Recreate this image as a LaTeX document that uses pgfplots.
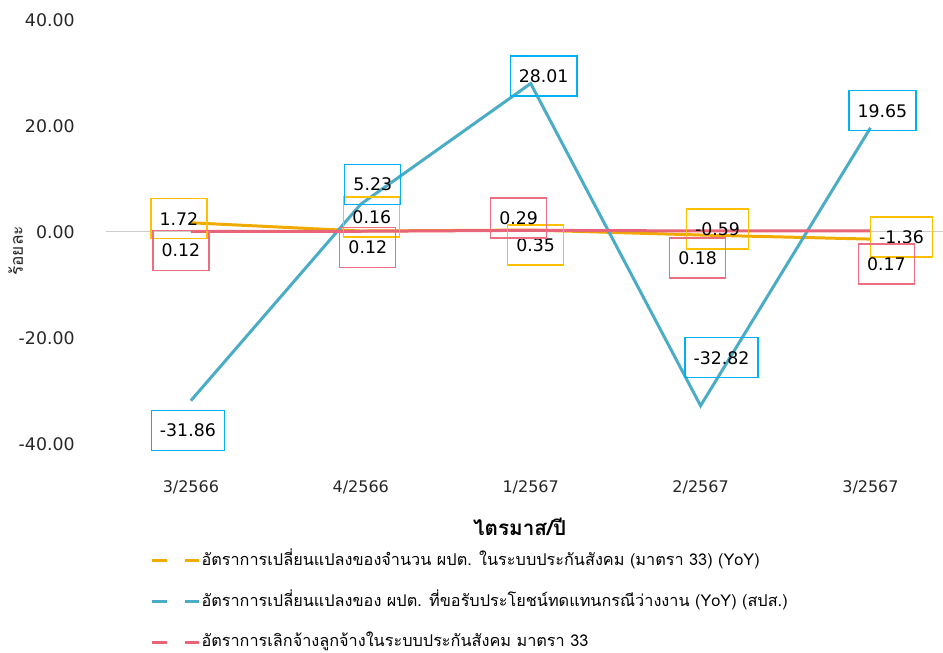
\documentclass[border=0pt]{standalone}
\usepackage{fontspec}
\setmainfont{Loma}[Script=Thai]
\newfontfamily\numfont{DejaVu Sans}
\usepackage{pgfplots}
\pgfplotsset{compat=1.18}
\usepackage{pgfplotstable}
\definecolor{yelline}{RGB}{240,170,0}
\definecolor{yelbox}{RGB}{255,192,0}
\definecolor{bluline}{RGB}{75,172,198}
\definecolor{blubox}{RGB}{0,176,240}
\definecolor{pinkline}{RGB}{232,100,120}
\definecolor{pinkbox}{RGB}{236,110,128}

\pgfplotstableread{
x y lab dx dy
0 1.72 1.72 -12 4
1 0.16 0.16 11 14
2 0.35 0.35 5 -15
3 -0.59 -0.59 17 6
4 -1.36 -1.36 31 2
}\yel
\pgfplotstableread{
x y lab dx dy
0 -31.86 -31.86 -3 -30
1 5.23 5.23 12 20
2 28.01 28.01 13 7.5
3 -32.82 -32.82 21 48
4 19.65 19.65 12 17
}\blu
\pgfplotstableread{
x y lab dx dy
0 0.12 0.12 -10 -19
1 0.12 0.12 7 -16
2 0.29 0.29 -12 12.5
3 0.18 0.18 -3 -27
4 0.17 0.17 16 -33
}\pnk

\begin{document}
\begin{tikzpicture}
\begin{axis}[
  scale only axis,
  width=627.75pt, height=318pt,
  xmin=-0.5, xmax=4.424,
  ymin=-40, ymax=40,
  clip=false,
  axis line style={draw=none},
  major tick length=0pt,
  xtick={0,1,2,3,4},
  xticklabels={3/2566,4/2566,1/2567,2/2567,3/2567},
  ytick={-40,-20,0,20,40},
  yticklabel={\pgfmathprintnumber[fixed,fixed zerofill,precision=2]{\tick}},
  /pgf/number format/assume math mode=true,
  yticklabel style={font=\numfont\fontsize{13pt}{15pt}\selectfont, text=black!85},
  xticklabel style={font=\numfont\fontsize{12pt}{14pt}\selectfont, text=black!85},
  xticklabel shift=24pt,
  yticklabel shift=20pt,
  extra y ticks={0},
  extra y tick labels={},
  extra y tick style={grid=major, major grid style={black!20, line width=0.75pt}},
  xlabel={\bfseries ไตรมาส/ปี},
  xlabel style={at={(axis description cs:0.4946,-0.1958)}, anchor=center, font=\fontsize{15.5pt}{17pt}\selectfont},
  ylabel={ร้อยละ},
  ylabel style={at={(axis description cs:-0.108,0.455)}, anchor=center, font=\fontsize{13pt}{15pt}\selectfont, text=black!85},
  legend style={draw=none, fill=none, at={(axis description cs:0.0526,-0.252)}, anchor=north west,
    inner sep=0pt, row sep=15.5pt, font=\fontsize{12.2pt}{14pt}\selectfont,
    nodes={inner sep=1pt, text height=10pt, text depth=3pt}, cells={anchor=west}},
  legend image code/.code={\draw[#1, dash pattern=on 11.25pt off 13.5pt] (0pt,0pt) -- (35.25pt,0pt);},
  every node near coord/.append style={anchor=center, inner xsep=6.5pt, minimum height=30pt,
    font=\numfont\fontsize{13pt}{15pt}\selectfont, text=black, line width=1pt,
    xshift={\dx*0.75pt}, yshift={\dy*0.75pt}},
  visualization depends on={\thisrow{dx} \as \dx},
  visualization depends on={\thisrow{dy} \as \dy},
  nodes near coords={\pgfplotspointmeta},
  point meta=explicit symbolic,
]
\addplot[yelline, line width=2.25pt, no marks, every node near coord/.append style={draw=yelbox}] table[x=x, y=y, meta=lab] {\yel};
\addlegendentry{อัตราการเปลี่ยนแปลงของจำนวน ผปต. ในระบบประกันสังคม (มาตรา 33) (YoY)}
\addplot[bluline, line width=2.25pt, no marks, every node near coord/.append style={draw=blubox}] table[x=x, y=y, meta=lab] {\blu};
\addlegendentry{อัตราการเปลี่ยนแปลงของ ผปต. ที่ขอรับประโยชน์ทดแทนกรณีว่างงาน (YoY) (สปส.)}
\addplot[pinkline, line width=2.25pt, no marks, every node near coord/.append style={draw=pinkbox}] table[x=x, y=y, meta=lab] {\pnk};
\addlegendentry{อัตราการเลิกจ้างลูกจ้างในระบบประกันสังคม มาตรา 33}
\end{axis}
\path[use as bounding box] (-79.5pt,-153.75pt) rectangle (627.75pt,333pt);
\end{tikzpicture}
\end{document}
